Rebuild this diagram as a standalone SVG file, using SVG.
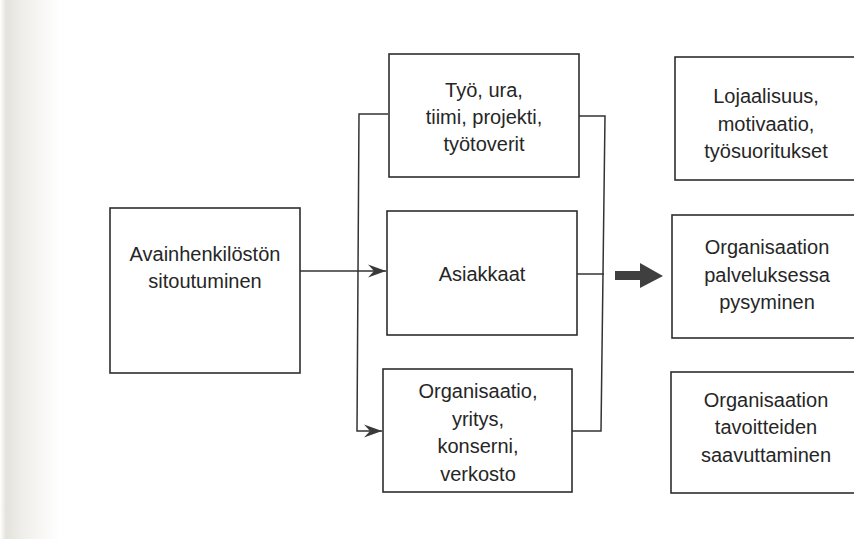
<svg xmlns="http://www.w3.org/2000/svg" width="854" height="539" viewBox="0 0 854 539">
  <defs>
    <linearGradient id="shade" x1="0" y1="0" x2="1" y2="0">
      <stop offset="0" stop-color="#ffffff"/>
      <stop offset="0.1" stop-color="#e4e2dc"/>
      <stop offset="0.4" stop-color="#f0efeb"/>
      <stop offset="1" stop-color="#ffffff"/>
    </linearGradient>
    <marker id="arr" viewBox="-18 -7 19 14" markerWidth="19" markerHeight="14" refX="0" refY="0" orient="auto" markerUnits="userSpaceOnUse">
      <path d="M0,0 L-18,-6.5 L-12,0 L-18,6.5 Z" fill="#3a3a3a"/>
    </marker>
    <style>
      .box { fill: #ffffff; stroke: #2e2e2e; stroke-width: 1.6; }
      .con { fill: none; stroke: #333333; stroke-width: 1.5; }
      .lbl { font-family: "Liberation Sans", Arial, sans-serif; font-size: 20px; fill: #262626; text-anchor: middle; }
    </style>
  </defs>
  <rect x="0" y="0" width="854" height="539" fill="#ffffff"/>
  <rect x="0" y="0" width="60" height="539" fill="url(#shade)"/>

  <g id="connectors">
    <line class="con" x1="300" y1="271" x2="386" y2="271" marker-end="url(#arr)"/>
    <polyline class="con" points="388,114 359,114 357,431 382,431" marker-end="url(#arr)"/>
    <polyline class="con" points="579,116 605,116 601,431 572,431"/>
    <line class="con" x1="577" y1="274" x2="604" y2="274"/>
    <polygon id="big-arrow" points="615,271 640,271 640,263 663,276 640,288 640,280 615,280" fill="#3f3f3f"/>
  </g>

  <g id="n-avain">
    <rect class="box" x="110" y="208" width="190" height="165"/>
    <text class="lbl" x="205" y="261">Avainhenkilöstön</text>
    <text class="lbl" x="205" y="288">sitoutuminen</text>
  </g>

  <g id="n-tyo">
    <rect class="box" x="389" y="54" width="190" height="123"/>
    <text class="lbl" x="484" y="97">Työ, ura,</text>
    <text class="lbl" x="484" y="124">tiimi, projekti,</text>
    <text class="lbl" x="484" y="151">työtoverit</text>
  </g>

  <g id="n-asiakkaat">
    <rect class="box" x="387" y="211" width="190" height="124"/>
    <text class="lbl" x="482" y="281">Asiakkaat</text>
  </g>

  <g id="n-organisaatio">
    <rect class="box" x="383" y="369" width="189" height="123"/>
    <text class="lbl" x="478" y="398">Organisaatio,</text>
    <text class="lbl" x="478" y="426">yritys,</text>
    <text class="lbl" x="478" y="453">konserni,</text>
    <text class="lbl" x="478" y="481">verkosto</text>
  </g>

  <g id="n-lojaalisuus">
    <rect class="box" x="675" y="57" width="200" height="123"/>
    <text class="lbl" x="766" y="103">Lojaalisuus,</text>
    <text class="lbl" x="766" y="131">motivaatio,</text>
    <text class="lbl" x="766" y="158">työsuoritukset</text>
  </g>

  <g id="n-pysyminen">
    <rect class="box" x="672" y="215" width="200" height="123"/>
    <text class="lbl" x="767" y="254">Organisaation</text>
    <text class="lbl" x="767" y="282">palveluksessa</text>
    <text class="lbl" x="767" y="309">pysyminen</text>
  </g>

  <g id="n-tavoitteet">
    <rect class="box" x="671" y="372" width="200" height="121"/>
    <text class="lbl" x="766" y="407">Organisaation</text>
    <text class="lbl" x="766" y="434">tavoitteiden</text>
    <text class="lbl" x="766" y="462">saavuttaminen</text>
  </g>
</svg>
